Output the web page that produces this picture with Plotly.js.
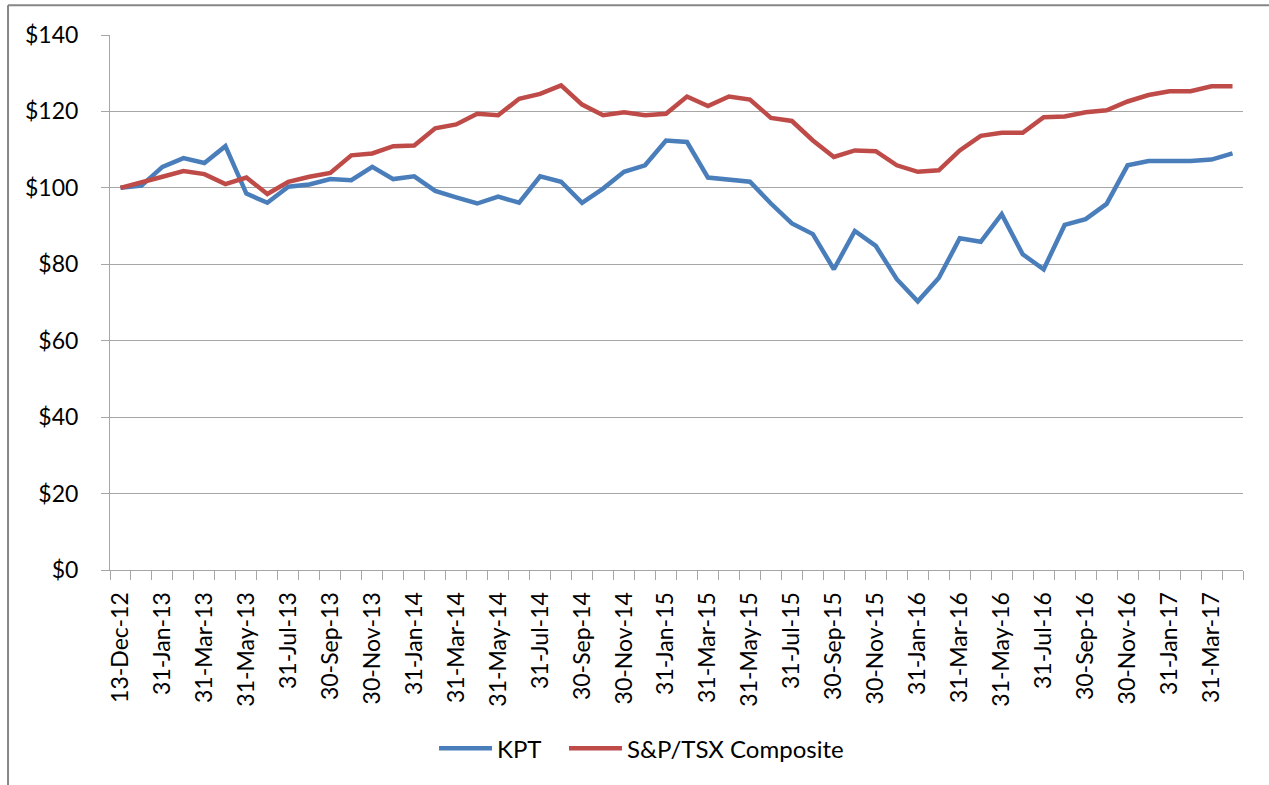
<!DOCTYPE html>
<html>
<head>
<meta charset="utf-8">
<script src="https://cdn.plot.ly/plotly-3.0.1.min.js"></script>
<style>
html,body{margin:0;padding:0;background:#fff;}
#chart{width:1269px;height:785px;}
</style>
</head>
<body>
<div id="chart"></div>
<script>
const dates = ['13-Dec-12','31-Dec-12','31-Jan-13','28-Feb-13','31-Mar-13','30-Apr-13','31-May-13','30-Jun-13','31-Jul-13','31-Aug-13','30-Sep-13','31-Oct-13','30-Nov-13','31-Dec-13','31-Jan-14','28-Feb-14','31-Mar-14','30-Apr-14','31-May-14','30-Jun-14','31-Jul-14','31-Aug-14','30-Sep-14','31-Oct-14','30-Nov-14','31-Dec-14','31-Jan-15','28-Feb-15','31-Mar-15','30-Apr-15','31-May-15','30-Jun-15','31-Jul-15','31-Aug-15','30-Sep-15','31-Oct-15','30-Nov-15','31-Dec-15','31-Jan-16','29-Feb-16','31-Mar-16','30-Apr-16','31-May-16','30-Jun-16','31-Jul-16','31-Aug-16','30-Sep-16','31-Oct-16','30-Nov-16','31-Dec-16','31-Jan-17','28-Feb-17','31-Mar-17','30-Apr-17'];

const kpt = [100,100.6,105.5,107.8,106.5,110.9,98.5,96.1,100.3,100.9,102.3,102.0,105.5,102.3,103.0,99.2,97.5,95.9,97.7,96.1,103.0,101.6,96.1,99.8,104.2,105.9,112.4,112.0,102.7,102.2,101.6,95.9,90.7,87.9,78.7,88.7,84.8,76.1,70.3,76.4,86.8,85.9,93.1,82.6,78.7,90.3,91.8,95.8,105.9,107.0,107.0,107.0,107.4,109.0];

const tsx = [100,101.3,102.9,104.4,103.6,101.0,102.7,98.4,101.6,102.9,103.9,108.5,109.0,110.9,111.1,115.6,116.6,119.4,119.0,123.3,124.6,126.8,121.8,119.0,119.8,119.0,119.4,123.9,121.4,123.9,123.1,118.3,117.5,112.4,108.1,109.8,109.6,105.9,104.2,104.6,109.8,113.6,114.4,114.4,118.5,118.7,119.8,120.3,122.6,124.3,125.3,125.3,126.6,126.6];

const seriesNames = ['KPT','S&P/TSX Composite'];
const yMin = 0, yMax = 140, yStep = 20;

const FONT = 'Lato, "Open Sans", sans-serif';
const GRID = '#a6a6a6';

const traces = [
  {x: dates, y: kpt, name: seriesNames[0], type: 'scatter', mode: 'lines', legend: 'legend',
   line: {color: '#4a7ebb', width: 4.5}},
  {x: dates, y: tsx, name: seriesNames[1], type: 'scatter', mode: 'lines', legend: 'legend2',
   line: {color: '#be4b48', width: 4.5}}
];

const legendBase = {orientation: 'h', xanchor: 'left', y: -0.334, yanchor: 'middle',
  font: {family: FONT, size: 24, color: '#000'}, itemwidth: 53, bgcolor: 'rgba(0,0,0,0)'};

const layout = {
  width: 1269, height: 785,
  margin: {l: 110, r: 26, t: 35, b: 215},
  paper_bgcolor: '#fff', plot_bgcolor: '#fff',
  font: {family: FONT, size: 23, color: '#000'},
  showlegend: true,
  legend: Object.assign({}, legendBase, {x: 0.286}),
  legend2: Object.assign({}, legendBase, {x: 0.4007}),
  xaxis: {
    type: 'category', categoryorder: 'array', categoryarray: dates,
    range: [-0.5, dates.length - 0.5],
    tickmode: 'linear', tick0: 0, dtick: 1, ticklabelstep: 2,
    tickson: 'boundaries', ticks: 'outside', ticklen: 9, tickcolor: GRID, tickwidth: 1,
    tickangle: -90, ticklabelstandoff: 12,
    showgrid: false, showline: true, linecolor: GRID, linewidth: 1,
    tickfont: {family: FONT, size: 23, color: '#000'},
    fixedrange: true, zeroline: false
  },
  yaxis: {
    range: [yMin, yMax], tickmode: 'linear', tick0: yMin, dtick: yStep, tickprefix: '$',
    ticks: 'outside', ticklen: 8, tickcolor: GRID, tickwidth: 1,
    ticklabelstandoff: 18,
    showgrid: true, gridcolor: GRID, gridwidth: 1,
    showline: true, linecolor: GRID, linewidth: 1, zeroline: false,
    tickfont: {family: FONT, size: 23, color: '#000'},
    fixedrange: true
  },
  shapes: [
    {type: 'line', xref: 'paper', yref: 'paper', x0: -0.0900, x1: -0.0900, y0: 1.0555, y1: -0.45,
     line: {color: '#868686', width: 2}},
    {type: 'line', xref: 'paper', yref: 'paper', x0: -0.0900, x1: 1.03, y0: 1.0555, y1: 1.0555,
     line: {color: '#868686', width: 2}}
  ]
};

Plotly.newPlot('chart', traces, layout, {displayModeBar: false, staticPlot: true});
</script>
</body>
</html>
